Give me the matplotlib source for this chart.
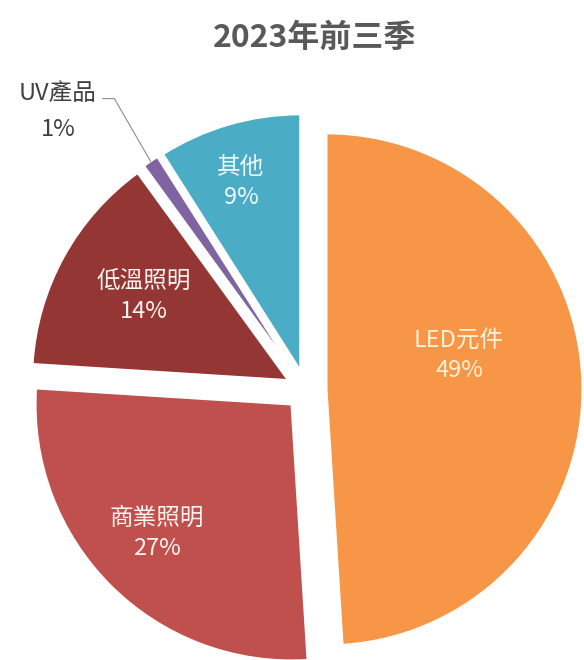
import matplotlib
matplotlib.use("Agg")
import matplotlib.pyplot as plt
import numpy as np

plt.rcParams['font.family'] = ['Noto Sans CJK TC', 'DejaVu Sans']

# data, clockwise from 12 o'clock
categories = ['LED元件', '商業照明', '低溫照明', 'UV產品', '其他']
shares = [49, 27, 14, 1, 9]
colors = ['#F79646', '#C0504D', '#943634', '#8064A2', '#4BACC6']
txt_colors = ['#FFF2D9', '#FFF5F0', '#FFF5F0', '#404040', '#F0FAFF']

# label centres in axis units (pie radius = 1)
label_xy = [(0.598, 0.137), (-0.582, -0.559), (-0.633, 0.367), None, (-0.254, 0.8125)]

W, H = 584, 660
scale = 256.0      # pixels per unit radius
cx, cy = 306, 390  # pie centre in pixels

fig = plt.figure(figsize=(W / 100, H / 100), dpi=100)
ax = fig.add_axes([0, 0, 1, 1])

wedges, _ = ax.pie(shares, colors=colors, startangle=90, counterclock=False,
                   explode=[0.08] * len(shares), radius=1,
                   wedgeprops=dict(edgecolor='white', linewidth=1.5))

ax.set_xlim(-cx / scale, (W - cx) / scale)
ax.set_ylim(-(H - cy) / scale, cy / scale)
ax.axis('off')

for i, w in enumerate(wedges):
    lab = '%s\n%d%%' % (categories[i], shares[i])
    if label_xy[i] is not None:
        ax.text(label_xy[i][0], label_xy[i][1], lab, ha='center', va='center',
                fontsize=17, color=txt_colors[i], linespacing=1.4)

# small UV slice gets an outside label with a leader line
w = wedges[3]
mid = np.deg2rad((w.theta1 + w.theta2) / 2)
px = w.center[0] + w.r * np.cos(mid)
py = w.center[1] + w.r * np.sin(mid)
ax.annotate(categories[3], xy=(px, py), xytext=((58 - cx) / scale, (cy - 94) / scale),
            ha='center', va='center', fontsize=17, color='#404040',
            arrowprops=dict(arrowstyle='-', color='#8C8C8C', lw=0.8, relpos=(1.0, 0.3),
                            shrinkA=2, shrinkB=0,
                            connectionstyle='angle,angleA=0,angleB=120,rad=0'))
ax.text((58 - cx) / scale, (cy - 130) / scale, '%d%%' % shares[3],
        ha='center', va='center', fontsize=17, color='#404040')

fig.text(315 / W, 1 - 38 / H, '2023年前三季', ha='center', va='center',
         fontsize=23, fontweight='bold', color='#595959')

fig.savefig('out.png', dpi=100)
